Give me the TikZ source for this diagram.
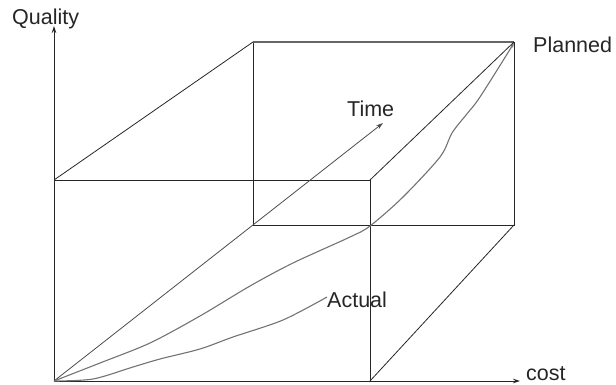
\documentclass[tikz,border=0pt]{standalone}
\usepackage{fontspec}
\setmainfont{Liberation Sans}
\usetikzlibrary{arrows.meta}
\begin{document}
\begin{tikzpicture}[x=1pt,y=-1pt,
  edge/.style={draw=black!85,line width=0.8pt},
  curve/.style={draw=black!55,line width=1.1pt,line join=round},
  axisarrow/.style={edge,-{Stealth[length=7pt,width=4.5pt]}},
  lbl/.style={font=\fontsize{21.5}{25}\selectfont,inner sep=0pt,anchor=base west,text=black!85}]
\useasboundingbox (0,0) rectangle (616,385);
% front box corners
\coordinate (O) at (54,381);
\coordinate (FTL) at (54,180);
\coordinate (FTR) at (370,180);
\coordinate (FBR) at (370,381);
% back box corners
\coordinate (BTL) at (253,42);
\coordinate (BTR) at (514,42);
\coordinate (BBR) at (514,225);
\coordinate (BBL) at (253,225);
% axis ends
\coordinate (Qend) at (54,26);
\coordinate (Cend) at (520,381);
\coordinate (Tend) at (383,123);
% labels
\node[lbl] (quality) at (12,25) {Quality};
\node[lbl] (planned) at (533,53) {Planned};
\node[lbl] (time) at (347,117) {Time};
\node[lbl] (actual) at (327,307) {Actual};
\node[lbl] (cost) at (526,380) {cost};
% front box
\draw[edge] (FTL) -- (FTR) -- (FBR);
% back box
\draw[edge] (BTL) -- (BTR) -- (BBR) -- (BBL) -- cycle;
\draw[edge,draw=black!60,line width=1.3pt] (BTL) -- (BTR);
% connecting edges
\draw[edge] (FTL) -- (BTL);
\draw[edge] (FTR) -- (BTR);
\draw[edge] (FBR) -- (BBR);
% axes
\draw[axisarrow] (O) -- (Qend);
\draw[axisarrow] (O) -- (Cend);
\draw[axisarrow,draw=black!70] (O) -- (Tend);
% planned curve
\draw[curve,-{Stealth[length=5pt,width=3.5pt]}] plot[smooth,tension=0.5] coordinates
  {(O) (100,363) (150,343) (200,316) (250,286) (293,263) (350,237) (370,226) (403,197) (440,157) (452,133) (466,115) (480,97) (514,43)};
% actual curve
\draw[curve] plot[smooth,tension=0.5] coordinates
  {(O) (93,379) (133,367) (160,359) (200,349) (233,337) (283,320) (327,297)};
\end{tikzpicture}
\end{document}
